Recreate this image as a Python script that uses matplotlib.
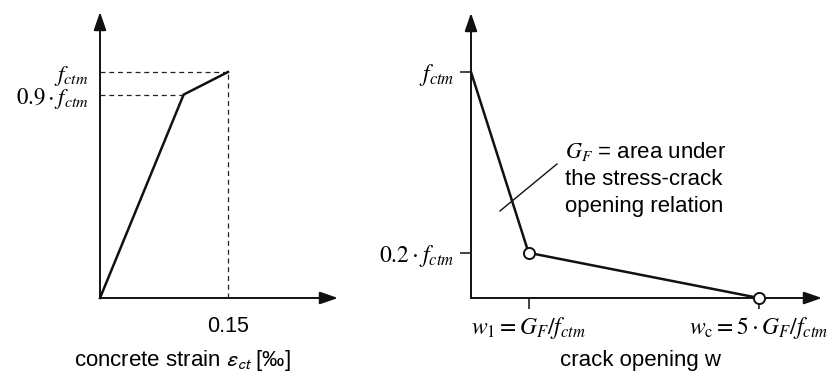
import matplotlib
matplotlib.use("Agg")
import matplotlib.pyplot as plt

plt.rcParams["font.family"] = ["Liberation Sans", "DejaVu Sans"]

# Tensile stress-strain relation (stress as a fraction of f_ctm, strain in per mille)
strain = [0.0, 0.098, 0.15]
stress_left = [0.0, 0.9, 1.0]
strain_ticks = [0.15]
strain_ticklabels = ["0.15"]
stress_left_ticks = [0.9, 1.0]
stress_left_ticklabels = [r"$0.9\cdot f_{ctm}$", r"$f_{ctm}$"]

# Bilinear softening relation (crack opening in units of G_F/f_ctm)
opening = [0.0, 1.0, 5.0]
stress_right = [1.0, 0.2, 0.0]
opening_ticks = [1.0, 5.0]
opening_ticklabels = [r"$w_1 = G_F/f_{ctm}$", r"$w_\mathrm{c} = 5\cdot G_F/f_{ctm}$"]
stress_right_ticks = [0.2, 1.0]
stress_right_ticklabels = [r"$0.2\cdot f_{ctm}$", r"$f_{ctm}$"]

W, H = 832, 376
fig = plt.figure(figsize=(W / 100, H / 100), dpi=100)


def box(x0, y0, x1, y1):
    return [x0 / W, 1 - y1 / H, (x1 - x0) / W, (y1 - y0) / H]


LW = 1.8
AX_LW = 1.4
arrow = dict(arrowstyle="-|>,head_length=1.1,head_width=0.38", color="#111111",
             lw=AX_LW, shrinkA=0, shrinkB=0)


def axis_arrows(ax, xmax, ymax):
    for spine in ax.spines.values():
        spine.set_visible(False)
    ax.annotate("", xy=(xmax, 0), xytext=(0, 0), arrowprops=arrow,
                annotation_clip=False)
    ax.annotate("", xy=(0, ymax), xytext=(0, 0), arrowprops=arrow,
                annotation_clip=False)


# ---- left panel ----
axL = fig.add_axes(box(100, 10, 340, 298))
axL.set_xlim(0, 240 / 853.3)
axL.set_ylim(0, 288 / 226)
axis_arrows(axL, 238 / 853.3, 286 / 226)
axL.plot(strain, stress_left, color="#111111", lw=LW, solid_joinstyle="miter",
         clip_on=False, zorder=3)
for s, e in zip(stress_left[1:], strain[1:]):
    axL.plot([0, e], [s, s], color="#222222", lw=0.9, ls=(0, (4, 3)))
axL.plot([strain[-1], strain[-1]], [0, stress_left[-1]], color="#222222",
         lw=0.9, ls=(0, (4, 3)))
axL.set_xticks(strain_ticks, strain_ticklabels, fontsize=15.5)
axL.set_yticks(stress_left_ticks, stress_left_ticklabels, fontsize=16.5,
               math_fontfamily="stix")
axL.tick_params(axis="x", length=0, pad=13)
axL.tick_params(axis="y", length=0, pad=8)
fig.text(182 / W, 1 - 366 / H, r"concrete strain $\varepsilon_{ct}$ [‰]",
         fontsize=16, ha="center", va="baseline", math_fontfamily="stixsans")

# ---- right panel ----
axR = fig.add_axes(box(471, 10, 830, 298))
axR.set_xlim(0, 359 / 57.6)
axR.set_ylim(0, 288 / 226)
axis_arrows(axR, 351 / 57.6, 285 / 226)
axR.plot(opening, stress_right, color="#111111", lw=LW, clip_on=False, zorder=3)
axR.plot(opening[1:], stress_right[1:], ls="none", marker="o", ms=8,
         mfc="white", mec="#111111", mew=1.4, clip_on=False, zorder=4)
axR.set_xticks(opening_ticks, opening_ticklabels, fontsize=17,
               math_fontfamily="stix")
axR.set_yticks(stress_right_ticks, stress_right_ticklabels, fontsize=17,
               math_fontfamily="stix")
axR.tick_params(axis="both", length=8, width=1.1, color="#111111")
axR.tick_params(axis="x", pad=4)
axR.tick_params(axis="y", pad=4)

# leader line and note about the fracture energy
axR.plot([0.503, 1.493], [0.385, 0.593], color="#111111", lw=1.0)
note = ["$G_F$ = area under", "the stress-crack", "opening relation"]
for i, line in enumerate(note):
    axR.text(1.63, (298 - (158 + 27 * i)) / 226, line, fontsize=16,
             ha="left", va="baseline", math_fontfamily="stix")

fig.text(641 / W, 1 - 366 / H, "crack opening w", fontsize=16,
         ha="center", va="baseline")

fig.savefig("out.png", dpi=100)
